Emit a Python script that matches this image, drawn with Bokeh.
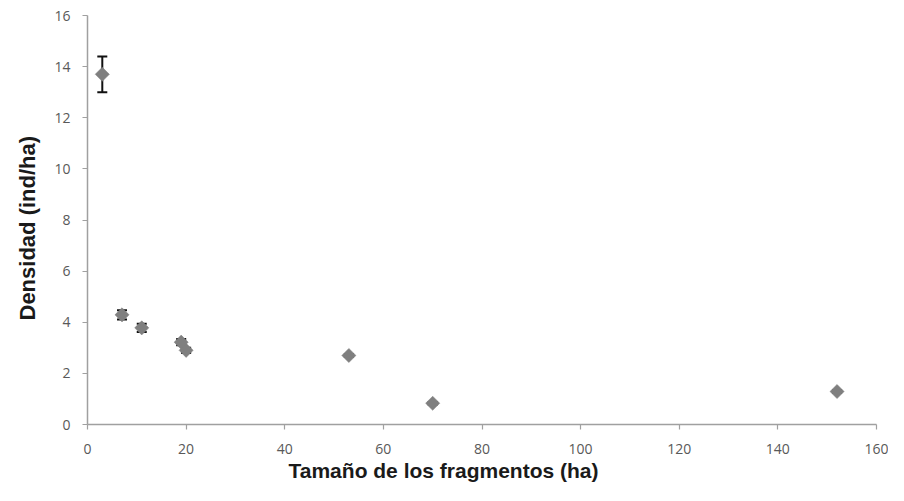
from bokeh.plotting import figure
from bokeh.models import ColumnDataSource, Whisker, TeeHead, Title, FixedTicker, Range1d
from bokeh.embed import file_html
from bokeh.resources import INLINE

# Data
area_ha = [3, 7, 11, 19, 20, 53, 70, 152]
density = [13.7, 4.29, 3.78, 3.22, 2.9, 2.7, 0.83, 1.29]
error = [0.7, 0.18, 0.16, 0.12, 0.1, 0.05, 0.05, 0.05]
x_ticks = [0, 20, 40, 60, 80, 100, 120, 140, 160]
y_ticks = [0, 2, 4, 6, 8, 10, 12, 14, 16]
x_title = "Tamaño de los fragmentos (ha)"
y_title = "Densidad (ind/ha)"

src = ColumnDataSource(dict(
    x=area_ha,
    y=density,
    upper=[d + e for d, e in zip(density, error)],
    lower=[d - e for d, e in zip(density, error)],
))

p = figure(width=888, height=485, x_range=Range1d(0, 160), y_range=Range1d(0, 16),
           output_backend="svg", toolbar_location=None,
           min_border_left=87, min_border_right=12, min_border_top=15, min_border_bottom=61)
p.outline_line_color = None
p.xgrid.visible = False
p.ygrid.visible = False
p.background_fill_color = "white"
p.border_fill_color = "white"

for ax in (p.xaxis[0], p.yaxis[0]):
    ax.axis_line_color = "#a0a0a0"
    ax.axis_line_width = 1.5
    ax.major_tick_line_color = "#a0a0a0"
    ax.major_tick_line_width = 1.2
    ax.major_tick_in = 0
    ax.major_tick_out = 5
    ax.minor_tick_line_color = None
    ax.major_label_text_font = "Open Sans"
    ax.major_label_text_font_size = "14px"
    ax.major_label_text_color = "#595959"

p.xaxis.ticker = FixedTicker(ticks=x_ticks)
p.yaxis.ticker = FixedTicker(ticks=y_ticks)
p.xaxis.major_label_standoff = 14
p.yaxis.major_label_standoff = 12

wh = Whisker(source=src, base="x", upper="upper", lower="lower", dimension="height",
             line_color="#111111", line_width=2,
             upper_head=TeeHead(size=10, line_color="#111111", line_width=2),
             lower_head=TeeHead(size=10, line_color="#111111", line_width=2),
             level="underlay")
p.add_layout(wh)

p.scatter("x", "y", source=src, marker="square", angle=0.7854, size=10,
          fill_color="#7f7f7f", line_color="#7f7f7f", line_width=0.5)

p.add_layout(Title(text=x_title, align="left", offset=201, text_font="Liberation Sans",
                   text_font_size="21px", text_font_style="bold", text_color="#1a1a1a",
                   standoff=0), "below")
p.add_layout(Title(text=y_title, align="left", offset=104, text_font="Liberation Sans",
                   text_font_size="22px", text_font_style="bold", text_color="#1a1a1a",
                   standoff=24), "left")

open("out.html", "w").write(file_html(p, INLINE))
